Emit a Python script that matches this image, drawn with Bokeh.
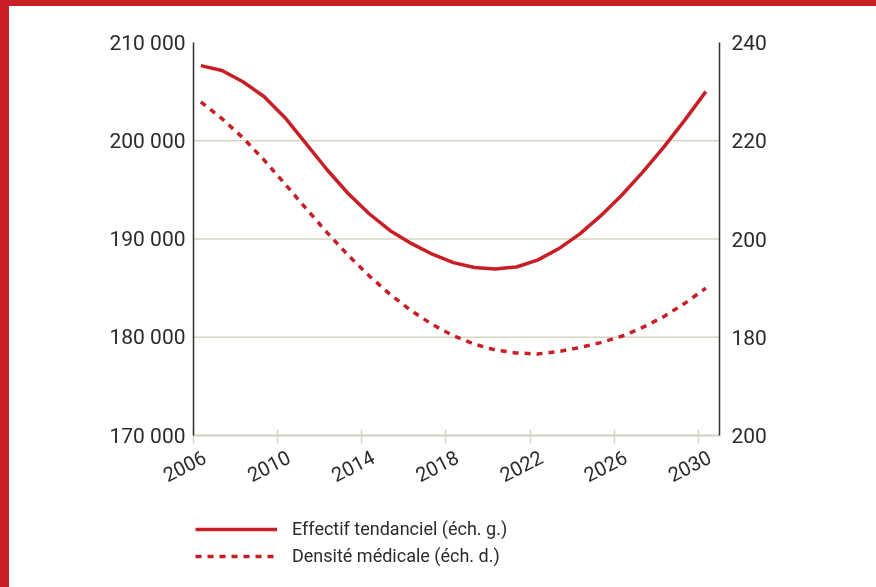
from math import pi
from bokeh.plotting import figure
from bokeh.models import (LinearAxis, Range1d, FixedTicker, Legend, LegendItem)
from bokeh.embed import file_html
from bokeh.resources import INLINE

# ---- data ----
years = list(range(2006, 2031))
effectif = [207650, 207150, 206000, 204500, 202350, 199710, 197050, 194630,
            192570, 190850, 189550, 188450, 187600, 187100, 186950, 187150,
            187850, 189000, 190500, 192350, 194450, 196800, 199350, 202100,
            205000]
densite = [227.9, 224.5, 220.6, 216.1, 211.2, 206.2, 201.3, 196.7, 192.5,
           188.7, 185.4, 182.6, 180.3, 178.6, 177.4, 176.8, 176.6, 177.1,
           177.9, 178.9, 180.2, 182.0, 184.2, 186.9, 190.0]
x_ticks = [2006, 2010, 2014, 2018, 2022, 2026, 2030]
x_lo, x_hi = 2006, 2031
left_ticks = [170000, 180000, 190000, 200000, 210000]
right_ticks = [160, 180, 200, 220, 240]
right_labels = ["200", "180", "200", "220", "240"]
series_names = ["Effectif tendanciel (éch. g.)", "Densité médicale (éch. d.)"]

RED = "#C81E25"
TXT = "#2b2b2b"
GRID = "#D6D6C2"
FONT = "Roboto"
xoff = 0.35
xs = [y + xoff for y in years]

# layout (pixels, canvas coordinates)
W, H = 867, 581
AXIS_L = 184          # left value axis
AXIS_R = 710          # right value axis
AXIS_T = 36           # 210 000 / 240 level
AXIS_B = 429          # 170 000 / 160 level
FL = 40               # frame left (frame also holds left labels)
FT = 8                # frame top
FR = W - AXIS_R
PLOT_H = AXIS_B - AXIS_T
px_per_year = (AXIS_R - AXIS_L) / (x_hi - x_lo)
x_start = x_lo - (AXIS_L - FL) / px_per_year
l_lo, l_hi = left_ticks[0], left_ticks[-1]
r_lo, r_hi = right_ticks[0], right_ticks[-1]
up, down = (AXIS_T - FT) / PLOT_H, (H - AXIS_B) / PLOT_H
l_range = Range1d(l_lo - (l_hi - l_lo) * down, l_hi + (l_hi - l_lo) * up)
r_range = Range1d(r_lo - (r_hi - r_lo) * down, r_hi + (r_hi - r_lo) * up)

p = figure(width=W, height=H, output_backend="svg", toolbar_location=None,
           x_range=Range1d(x_start, x_hi), y_range=l_range,
           min_border_left=FL, min_border_right=FR, min_border_top=FT,
           min_border_bottom=0)
p.styles = {"position": "fixed", "left": "9px", "top": "6px",
            "outline": f"9px solid {RED}"}
p.outline_line_color = None
p.background_fill_color = "white"
p.border_fill_color = "white"
p.extra_y_ranges = {"right": r_range}

# horizontal grid lines between the two value axes
grid_ticks = left_ticks[:-1]
p.xgrid.grid_line_color = None
p.ygrid.grid_line_color = None
p.segment(x0=[x_lo] * len(grid_ticks), x1=[x_hi] * len(grid_ticks),
          y0=grid_ticks, y1=grid_ticks, line_color=GRID, line_width=1.5)

# x axis line and ticks (fixed at the bottom of the value band)
xa = p.xaxis[0]
xa.fixed_location = l_lo
xa.bounds = (x_lo, x_hi)
xa.ticker = FixedTicker(ticks=x_ticks)
xa.axis_line_color = GRID
xa.axis_line_width = 2
xa.major_tick_line_color = GRID
xa.major_tick_line_width = 1.5
xa.major_tick_in = 6
xa.major_tick_out = 8
xa.minor_tick_line_color = None
xa.major_label_text_font_size = "0px"
xa.major_label_text_alpha = 0

# x tick labels, set slightly to the right of their ticks as in the original
label_shift = 11 / px_per_year
label_pos = [t + label_shift for t in x_ticks]
xl = LinearAxis(fixed_location=l_lo, ticker=FixedTicker(ticks=label_pos))
xl.major_label_overrides = {pos: str(t) for pos, t in zip(label_pos, x_ticks)}
xl.axis_line_color = None
xl.major_tick_line_color = None
xl.minor_tick_line_color = None
xl.major_tick_in = 0
xl.major_tick_out = 0
xl.major_label_standoff = 20
xl.major_label_orientation = 0.47
xl.major_label_text_font = FONT
xl.major_label_text_font_size = "20px"
xl.major_label_text_color = TXT
p.add_layout(xl, "below")

# left y axis (fixed at the first year)
ya = p.yaxis[0]
ya.fixed_location = x_lo
ya.bounds = (l_lo, l_hi)
ya.ticker = FixedTicker(ticks=left_ticks)
ya.major_label_overrides = {t: f"{t:,}".replace(",", " ") for t in left_ticks}
ya.axis_line_color = "#333333"
ya.axis_line_width = 1.5
ya.major_tick_line_color = None
ya.major_tick_out = 0
ya.major_tick_in = 0
ya.minor_tick_line_color = None
ya.major_label_text_font = FONT
ya.major_label_text_font_size = "21px"
ya.major_label_text_color = TXT
ya.major_label_standoff = 8

# right y axis
ra = LinearAxis(y_range_name="right", ticker=FixedTicker(ticks=right_ticks),
                bounds=(r_lo, r_hi))
ra.major_label_overrides = dict(zip(right_ticks, right_labels))
ra.axis_line_color = "#333333"
ra.axis_line_width = 1.5
ra.major_tick_line_color = None
ra.major_tick_out = 0
ra.major_tick_in = 0
ra.minor_tick_line_color = None
ra.major_label_text_font = FONT
ra.major_label_text_font_size = "21px"
ra.major_label_text_color = TXT
ra.major_label_standoff = 12
p.add_layout(ra, "right")

r1 = p.line(xs, effectif, line_color=RED, line_width=3.5, line_join="round")
r2 = p.line(xs, densite, line_color=RED, line_width=3.5, line_dash="6 6",
            line_join="round", y_range_name="right")

legend = Legend(items=[LegendItem(label=series_names[0], renderers=[r1]),
                       LegendItem(label=series_names[1], renderers=[r2])],
                location=(AXIS_L - FL + 2, 21), orientation="vertical")
legend.border_line_color = None
legend.background_fill_alpha = 0
legend.padding = 0
legend.margin = 0
legend.spacing = 6
legend.glyph_width = 82
legend.glyph_height = 20
legend.label_standoff = 15
legend.label_text_font = FONT
legend.label_text_font_size = "18px"
legend.label_text_color = TXT
p.add_layout(legend, "center")

open("out.html", "w").write(file_html(p, INLINE))
